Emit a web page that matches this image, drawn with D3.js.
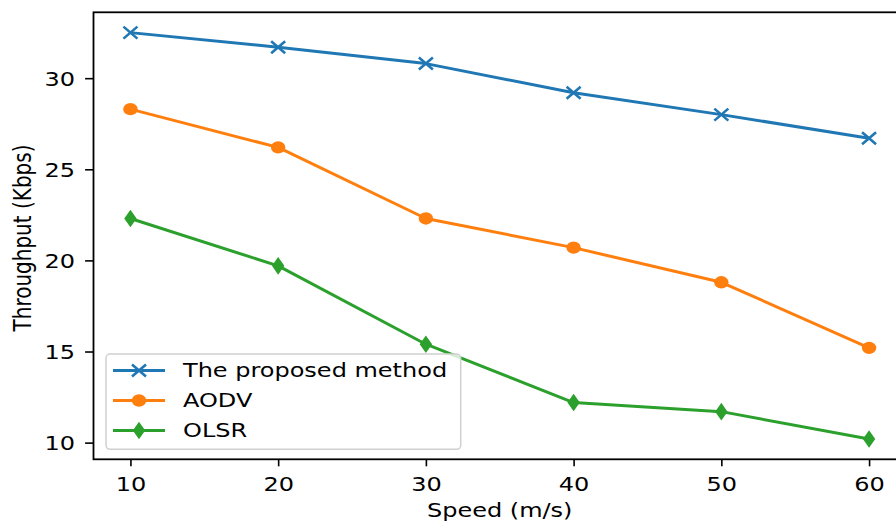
<!DOCTYPE html>
<html>
<head>
<meta charset="utf-8">
<script src="https://cdn.jsdelivr.net/npm/d3@7"></script>
<style>
  body { margin: 0; background: white; }
  svg { display: block; }
  text { font-family: "DejaVu Sans", sans-serif; fill: #000; }
</style>
</head>
<body>
<div id="chart"></div>
<script>
// data
let speeds = [10, 20, 30, 40, 50, 60];
let proposed = [32.5, 31.7, 30.8, 29.2, 28.0, 26.7];
let aodv = [28.3, 26.2, 22.3, 20.7, 18.8, 15.2];
let olsr = [22.3, 19.7, 15.4, 12.2, 11.7, 10.2];
let seriesNames = ["The proposed method", "AODV", "OLSR"];
let xTicks = [10, 20, 30, 40, 50, 60];
let yTicks = [10, 15, 20, 25, 30];

let W = 896, H = 521;
let plotL = 93.5, plotR = 906, plotT = 12.3, plotB = 459.3;
let fs = 20, sx = 1.2; // picture is stretched sideways a bit

let svg = d3.select('#chart')
  .append('svg')
  .attr('width', W)
  .attr('height', H);

let x = d3.scaleLinear().domain([7.5, 62.5]).range([plotL, plotR]);
let y = d3.scaleLinear().domain([9.085, 33.615]).range([plotB, plotT]);

// x axis
let gx = svg.append('g')
  .attr('transform', 'translate(0,' + plotB + ')')
  .call(d3.axisBottom(x).tickValues(xTicks).tickSizeOuter(0).tickSize(7));
gx.select('.domain').remove();
gx.selectAll('line').attr('stroke', '#000').attr('stroke-width', 1.6);
gx.selectAll('text')
  .attr('y', null).attr('dy', null)
  .attr('transform', 'translate(0,31.4) scale(' + sx + ',1)')
  .style('font-size', fs + 'px');

// y axis
let gy = svg.append('g')
  .attr('transform', 'translate(' + plotL + ',0)')
  .call(d3.axisLeft(y).tickValues(yTicks).tickSizeOuter(0).tickSize(8.4));
gy.select('.domain').remove();
gy.selectAll('line').attr('stroke', '#000').attr('stroke-width', 1.6);
gy.selectAll('text')
  .attr('x', null).attr('dy', '0.36em')
  .attr('transform', 'translate(-18.5,0) scale(' + sx + ',1)')
  .style('font-size', fs + 'px');

// spines (right one falls off the picture)
svg.append('rect')
  .attr('x', plotL).attr('y', plotT)
  .attr('width', plotR - plotL).attr('height', plotB - plotT)
  .attr('fill', 'none')
  .attr('stroke', '#000')
  .attr('stroke-width', 1.8);

// axis labels
svg.append('text')
  .attr('transform', 'translate(499.7,516.7) scale(' + sx + ',1)')
  .attr('text-anchor', 'middle')
  .style('font-size', fs + 'px')
  .text('Speed (m/s)');

svg.append('text')
  .attr('transform', 'translate(30.5,238) scale(' + sx + ',1) rotate(-90)')
  .attr('text-anchor', 'middle')
  .style('font-size', fs + 'px')
  .text('Throughput (Kbps)');

let colors = ['#1f77b4', '#ff7f0e', '#2ca02c'];
let allSeries = [proposed, aodv, olsr];
let markers = ['x', 'o', 'd'];

function drawMarker(g, kind, color) {
  if (kind === 'x') {
    g.append('path')
      .attr('d', 'M-7,-6L7,6M-7,6L7,-6')
      .attr('stroke', color).attr('stroke-width', 2.6).attr('fill', 'none');
  } else if (kind === 'o') {
    g.append('ellipse')
      .attr('rx', 7.2).attr('ry', 6.2)
      .attr('fill', color);
  } else {
    g.append('path')
      .attr('d', 'M0,-8.8L6.2,0L0,8.8L-6.2,0Z')
      .attr('fill', color);
  }
}

let line = d3.line()
  .x(function(d, i) { return x(speeds[i]); })
  .y(function(d) { return y(d); });

allSeries.forEach(function(vals, k) {
  svg.append('path')
    .datum(vals)
    .attr('d', line)
    .attr('fill', 'none')
    .attr('stroke', colors[k])
    .attr('stroke-width', 3)
    .attr('stroke-linejoin', 'round');
  svg.selectAll('.m' + k)
    .data(vals)
    .enter().append('g')
    .attr('class', 'm' + k)
    .attr('transform', function(d, i) { return 'translate(' + x(speeds[i]) + ',' + y(d) + ')'; })
    .each(function() { drawMarker(d3.select(this), markers[k], colors[k]); });
});

// legend
let legend = svg.append('g');
legend.append('rect')
  .attr('x', 106).attr('y', 354)
  .attr('width', 354.7).attr('height', 95.3)
  .attr('rx', 4)
  .attr('fill', 'white').attr('fill-opacity', 0.8)
  .attr('stroke', '#d0d0d0').attr('stroke-width', 1.5);

seriesNames.forEach(function(name, k) {
  let cy = 370.5 + k * 30;
  legend.append('line')
    .attr('x1', 113).attr('x2', 165)
    .attr('y1', cy).attr('y2', cy)
    .attr('stroke', colors[k]).attr('stroke-width', 3);
  let mg = legend.append('g').attr('transform', 'translate(139,' + cy + ')');
  drawMarker(mg, markers[k], colors[k]);
  legend.append('text')
    .attr('transform', 'translate(183,' + (cy + 6.4) + ') scale(' + sx + ',1)')
    .style('font-size', fs + 'px')
    .text(name);
});
</script>
</body>
</html>
